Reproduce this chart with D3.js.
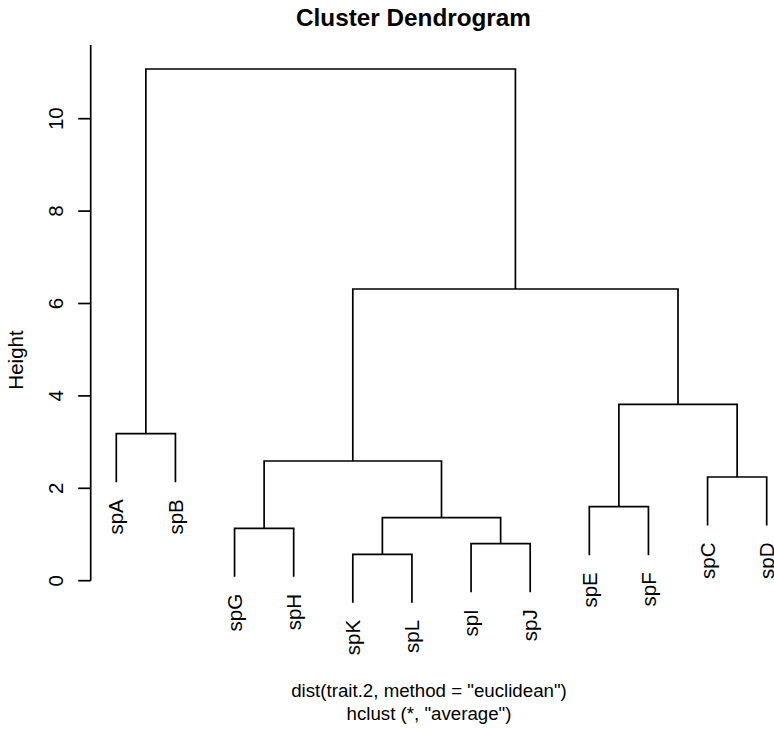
<!DOCTYPE html>
<html>
<head>
<meta charset="utf-8">
<script src="https://cdn.jsdelivr.net/npm/d3@7"></script>
<style>
  html, body { margin: 0; padding: 0; background: #fff; }
  svg { display: block; font-family: "Liberation Sans", Arial, Helvetica, sans-serif; }
</style>
</head>
<body>
<svg id="chart" width="774" height="729"></svg>
<script>
// ---- data (hclust result, leaves in plotting order) ----
const leafLabels = ["spA","spB","spG","spH","spK","spL","spI","spJ","spE","spF","spC","spD"];
// merges: negative = leaf position (1-based in leafLabels), positive = earlier merge step
const mergeLeft   = [-5, -7, -3, 1, -9, -11, 3, -1, 5, 7, 8];
const mergeRight  = [-6, -8, -4, 2, -10, -12, 4, -2, 6, 9, 10];
const mergeHeight = [0.571, 0.801, 1.134, 1.364, 1.602, 2.245, 2.591, 3.182, 3.818, 6.314, 11.076];
const yTicks = [0, 2, 4, 6, 8, 10];
const titleText = "Cluster Dendrogram";
const xlabLines = ['dist(trait.2, method = "euclidean")', 'hclust (*, "average")'];
const ylabText = "Height";

// ---- layout ----
const svg = d3.select("#chart");
const axisX = 90.7, plotTop = 45;
const x = d3.scaleLinear().domain([1, leafLabels.length]).range([116.3, 766.7]);
const y = d3.scaleLinear().domain([0, 10]).range([580.7, 118.7]);
const hang = 0.1 * (d3.max(mergeHeight) - d3.min(mergeHeight));

// compute node positions
const nodeX = [], nodeH = [];
function childPos(c) {
  if (c < 0) return { x: x(-c), top: null };
  return { x: nodeX[c - 1], top: nodeH[c - 1] };
}
const lineColor = "#000", sw = 1.7;
const g = svg.append("g");
mergeHeight.forEach((h, i) => {
  const a = childPos(mergeLeft[i]), b = childPos(mergeRight[i]);
  const ya = a.top === null ? h - hang : a.top;
  const yb = b.top === null ? h - hang : b.top;
  nodeX[i] = (a.x + b.x) / 2;
  nodeH[i] = h;
  const p = d3.path();
  p.moveTo(a.x, y(ya));
  p.lineTo(a.x, y(h));
  p.lineTo(b.x, y(h));
  p.lineTo(b.x, y(yb));
  g.append("path").attr("d", p.toString()).attr("fill", "none")
    .attr("stroke", lineColor).attr("stroke-width", sw);
  // leaf labels
  [[mergeLeft[i], ya], [mergeRight[i], yb]].forEach(([c, yy]) => {
    if (c < 0) {
      const lx = x(-c), ly = y(yy) + 17;
      svg.append("text").attr("transform", `translate(${lx},${ly}) rotate(-90)`)
        .attr("text-anchor", "end").attr("dy", "0.35em")
        .attr("font-size", 20.5).text(leafLabels[-c - 1]);
    }
  });
});

// y axis
svg.append("line").attr("x1", axisX).attr("x2", axisX)
  .attr("y1", y(0)).attr("y2", plotTop).attr("stroke", "#000").attr("stroke-width", sw);
const ax = svg.append("g");
yTicks.forEach(t => {
  ax.append("line").attr("x1", axisX - 12.5).attr("x2", axisX)
    .attr("y1", y(t)).attr("y2", y(t)).attr("stroke", "#000").attr("stroke-width", sw);
  ax.append("text").attr("transform", `translate(63,${y(t)}) rotate(-90)`)
    .attr("text-anchor", "middle").attr("font-size", 20.5).text(t);
});

// titles
svg.append("text").attr("x", 413.5).attr("y", 26).attr("text-anchor", "middle")
  .attr("font-size", 24.3).attr("font-weight", "bold").text(titleText);
svg.append("text").attr("transform", "translate(23,360) rotate(-90)")
  .attr("text-anchor", "middle").attr("font-size", 20.5).text(ylabText);
xlabLines.forEach((s, i) => {
  svg.append("text").attr("x", 429).attr("y", 697 + i * 23).attr("text-anchor", "middle")
    .attr("font-size", 18.7).text(s);
});
</script>
</body>
</html>
